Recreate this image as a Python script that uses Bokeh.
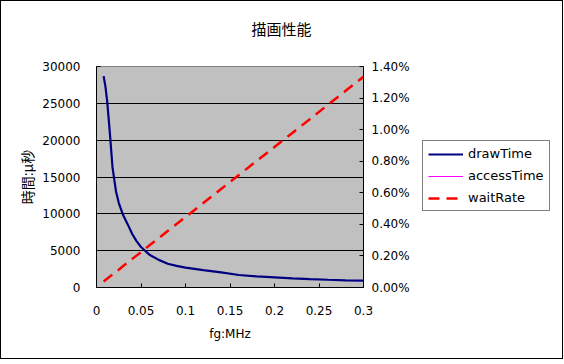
from bokeh.plotting import figure
from bokeh.layouts import row
from bokeh.models import (Range1d, LinearAxis, FixedTicker, NumeralTickFormatter,
                          Legend, LegendItem, Title, ColumnDataSource)
from bokeh.embed import file_html
from bokeh.resources import INLINE

# ---- data ----
fg = [0.008, 0.01, 0.012, 0.015, 0.018, 0.02, 0.022, 0.025, 0.03, 0.035, 0.04,
      0.045, 0.05, 0.06, 0.07, 0.08, 0.09, 0.1, 0.12, 0.14, 0.16, 0.18, 0.2,
      0.22, 0.24, 0.26, 0.28, 0.3]
draw_time = [28700, 27300, 25300, 21000, 16300, 14600, 13000, 11500, 9800, 8600, 7300,
             6300, 5500, 4400, 3750, 3220, 2930, 2700, 2350, 2050, 1700, 1500, 1380,
             1240, 1140, 1050, 970, 940]
wait_rate_pct = [0.038, 0.047, 0.056, 0.069, 0.082, 0.091, 0.100, 0.113, 0.136, 0.158, 0.180,
                 0.202, 0.224, 0.269, 0.313, 0.358, 0.402, 0.446, 0.535, 0.624, 0.713, 0.802,
                 0.890, 0.979, 1.068, 1.157, 1.246, 1.335]
# accessTime is listed in the legend but no line is visible in the chart
access_fg = [float("nan")]
access_time = [float("nan")]

series_names = ["drawTime", "accessTime", "waitRate"]

x_ticks = [0, 0.05, 0.1, 0.15, 0.2, 0.25, 0.3]
y_ticks = [0, 5000, 10000, 15000, 20000, 25000, 30000]
pct_ticks = [0, 0.002, 0.004, 0.006, 0.008, 0.010, 0.012, 0.014]

wait_rate = [v / 100.0 for v in wait_rate_pct]

FONT = "DejaVu Sans"
JP = "Noto Sans CJK JP"

STYLE_DRAW = dict(line_color="#000080", line_width=2.2)
STYLE_ACC = dict(line_color="#FF00FF", line_width=1)
STYLE_WAIT = dict(line_color="#FF0000", line_width=2.5, line_dash="11 7")

# ---------------- main chart ----------------
p = figure(width=420, height=357, output_backend="svg", toolbar_location=None,
           x_range=Range1d(0, 0.3), y_range=Range1d(0, 30000),
           min_border_left=95, min_border_right=58, min_border_top=65,
           min_border_bottom=71, background_fill_color="#C0C0C0",
           border_fill_color="white")
p.extra_y_ranges = {"pct": Range1d(0, 0.014)}
p.outline_line_color = "#808080"

src_main = ColumnDataSource(dict(x=fg, d=draw_time, w=wait_rate))
src_acc = ColumnDataSource(dict(x=access_fg, a=access_time))

p.line("x", "d", source=src_main, **STYLE_DRAW)
p.line("x", "a", source=src_acc, **STYLE_ACC)
p.line("x", "w", source=src_main, y_range_name="pct", **STYLE_WAIT)

p.xgrid.visible = False
p.ygrid.ticker = FixedTicker(ticks=y_ticks)
p.ygrid.grid_line_color = "black"
p.ygrid.grid_line_width = 1

xa = p.xaxis[0]
xa.ticker = FixedTicker(ticks=x_ticks)
xa.formatter = NumeralTickFormatter(format="0.[00]")
xa.axis_label = "fg:MHz"

ya = p.yaxis[0]
ya.ticker = FixedTicker(ticks=y_ticks)
ya.formatter = NumeralTickFormatter(format="0")
ya.axis_label = "時間:μ秒"

ra = LinearAxis(y_range_name="pct", ticker=FixedTicker(ticks=pct_ticks),
                formatter=NumeralTickFormatter(format="0.00%"))
p.add_layout(ra, "right")

for ax in (xa, ya, ra):
    ax.axis_line_color = "black"
    ax.major_tick_line_color = "black"
    ax.major_tick_in = 4
    ax.major_tick_out = 0
    ax.minor_tick_line_color = None
    ax.major_label_text_font = FONT
    ax.major_label_text_font_size = "12px"
    ax.major_label_text_color = "black"
    ax.axis_label_text_font_style = "normal"
    ax.axis_label_text_color = "black"

xa.major_label_standoff = 18
ya.major_label_standoff = 16
ra.major_label_standoff = 8
xa.axis_label_text_font = FONT
xa.axis_label_text_font_size = "12px"
xa.axis_label_standoff = 9
ya.axis_label_text_font = JP
ya.axis_label_text_font_size = "14px"
ya.axis_label_standoff = 2

# title: spacer (closest to frame) then the real title
p.add_layout(Title(text=" ", text_font_size="19px", standoff=0), "above")
p.add_layout(Title(text="描画性能", align="left", offset=155, text_font=JP,
                   text_font_size="15px", text_font_style="normal",
                   text_color="black"), "above")

# ---------------- legend panel ----------------
q = figure(width=141, height=357, output_backend="svg", toolbar_location=None,
           x_range=Range1d(0, 1), y_range=Range1d(0, 1),
           x_axis_type=None, y_axis_type=None,
           min_border_left=0, min_border_right=0, min_border_top=0, min_border_bottom=0,
           background_fill_color="white", border_fill_color="white")
q.outline_line_color = None
q.grid.visible = False
key_src = ColumnDataSource(dict(x=[float("nan")], y=[float("nan")]))
k_draw = q.line("x", "y", source=key_src, **STYLE_DRAW)
k_acc = q.line("x", "y", source=key_src, **STYLE_ACC)
k_wait = q.line("x", "y", source=key_src, **STYLE_WAIT)

legend = Legend(items=[LegendItem(label=series_names[0], renderers=[k_draw]),
                       LegendItem(label=series_names[1], renderers=[k_acc]),
                       LegendItem(label=series_names[2], renderers=[k_wait])],
                location=(1, 76), orientation="vertical")
legend.border_line_color = "black"
legend.border_line_width = 1
legend.background_fill_color = "white"
legend.background_fill_alpha = 1
legend.label_text_font = FONT
legend.label_text_font_size = "13px"
legend.label_text_color = "black"
legend.glyph_width = 35
legend.glyph_height = 14
legend.label_height = 14
legend.label_standoff = 5
legend.spacing = 7
legend.padding = 5
legend.margin = 0
q.add_layout(legend, "center")

layout = row(p, q, spacing=0, styles={"border": "1px solid black"})

open("out.html", "w").write(file_html(layout, INLINE))
